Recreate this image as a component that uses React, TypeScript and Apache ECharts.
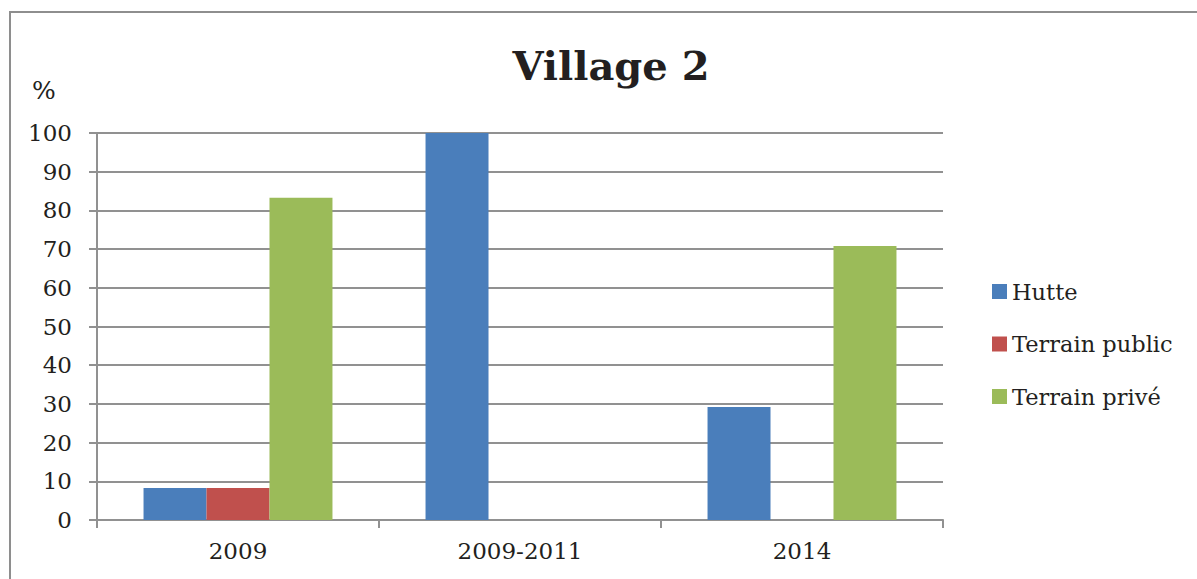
import React, { useEffect, useRef } from "react";
import * as echarts from "echarts";

const categories = ["2009", "2009-2011", "2014"];
const hutte = [8.3, 100, 29.2];
const terrainPublic = [8.3, 0, 0];
const terrainPrive = [83.3, 0, 70.8];
const seriesNames = ["Hutte", "Terrain public", "Terrain privé"];
const colors = ["#4A7EBB", "#C0504D", "#9BBB59"];

const FONT = "DejaVu Serif";
const TEXT = "#231F20";
const GRID = "#919191";

export default function App() {
  const ref = useRef<HTMLDivElement>(null);
  useEffect(() => {
    document.body.style.margin = "0";
    const chart = echarts.init(ref.current!, null, { renderer: "svg" });
    const seriesData = [hutte, terrainPublic, terrainPrive];
    chart.setOption({
      animation: false,
      backgroundColor: "#ffffff",
      color: colors,
      title: {
        text: "Village 2",
        left: 606,
        textAlign: "center",
        top: 40,
        textStyle: { fontFamily: FONT, fontWeight: "bold", fontSize: 40, color: TEXT },
      },
      graphic: [
        {
          type: "rect",
          shape: { x: 10, y: 12, width: 1400, height: 800 },
          style: { fill: "none", stroke: "#8E8E8E", lineWidth: 2 },
          silent: true,
        },
        {
          type: "text",
          x: 32,
          y: 78,
          style: { text: "%", fontFamily: FONT, fontSize: 25, fill: TEXT },
        },
      ],
      legend: {
        orient: "vertical",
        left: 987,
        top: 275,
        itemWidth: 15,
        itemHeight: 15,
        itemGap: 29.5,
        icon: "rect",
        data: seriesNames,
        textStyle: { fontFamily: FONT, fontSize: 22.5, color: TEXT, lineHeight: 22 },
      },
      grid: { left: 97, right: 254, top: 133, bottom: 59, containLabel: false },
      xAxis: {
        type: "category",
        data: categories,
        axisLine: { show: true, lineStyle: { color: GRID, width: 2 } },
        axisTick: { show: true, alignWithLabel: false, length: 8, lineStyle: { color: GRID, width: 2 } },
        axisLabel: { fontFamily: FONT, fontSize: 23, color: TEXT, margin: 19 },
      },
      yAxis: {
        type: "value",
        min: 0,
        max: 100,
        interval: 10,
        axisLine: { show: true, lineStyle: { color: GRID, width: 2 } },
        axisTick: { show: true, length: 8, lineStyle: { color: GRID, width: 2 } },
        splitLine: { show: true, lineStyle: { color: GRID, width: 2 } },
        axisLabel: { fontFamily: FONT, fontSize: 23, color: TEXT, margin: 25 },
      },
      series: seriesNames.map((name, i) => ({
        name,
        type: "bar",
        data: seriesData[i],
        barGap: "0%",
        barCategoryGap: "33%",
        itemStyle: { color: colors[i] },
      })),
    });
    return () => chart.dispose();
  }, []);
  return <div ref={ref} style={{ width: 1197, height: 579, overflow: "hidden" }} />;
}
